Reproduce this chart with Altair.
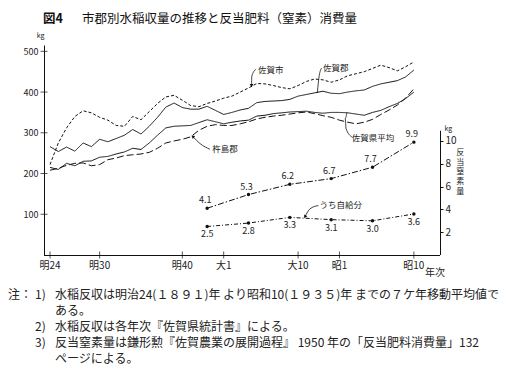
import altair as alt
import pandas as pd

FONT = "Noto Sans CJK JP"

# ---------------- data ----------------
years = list(range(1891, 1936))
saga_city = [222, 275, 312, 340, 354, 349, 338, 331, 318, 316,
             340, 332, 352, 372, 388, 392, 380, 367, 364, 372,
             378, 385, 390, 400, 410, 421, 420, 416, 411, 408,
             416, 426, 432, 430, 424, 430, 440, 445, 450, 458,
             466, 460, 452, 462, 474]
saga_gun = [266, 254, 265, 255, 275, 266, 284, 278, 286, 294,
            308, 297, 316, 338, 363, 373, 362, 358, 358, 365,
            355, 345, 350, 356, 360, 374, 377, 378, 379, 382,
            390, 394, 398, 402, 397, 396, 400, 403, 405, 414,
            420, 424, 428, 437, 454]
pref_avg = [215, 210, 225, 219, 230, 231, 240, 242, 248, 253,
            262, 259, 275, 294, 312, 316, 317, 318, 325, 332,
            327, 322, 326, 329, 331, 341, 343, 347, 349, 351,
            352, 353, 350, 348, 350, 350, 349, 346, 343, 350,
            355, 364, 372, 384, 400]
kishima = [208, 213, 220, 225, 226, 219, 222, 234, 238, 244,
           246, 248, 252, 262, 275, 280, 284, 290, 306, 316,
           320, 318, 318, 322, 327, 334, 338, 341, 343, 346,
           349, 351, 347, 342, 338, 331, 326, 322, 326, 333,
           345, 356, 368, 385, 408]
series_names = ["佐賀市", "佐賀郡", "佐賀県平均", "杵島郡"]

n_years = [1910, 1915, 1920, 1925, 1930, 1935]
nitrogen = [4.1, 5.3, 6.2, 6.7, 7.7, 9.9]
self_supplied = [2.5, 2.8, 3.3, 3.1, 3.0, 3.6]

tick_years = [1891, 1897, 1907, 1912, 1921, 1926, 1935]
tick_labels = ["明24", "明30", "明40", "大1", "大10", "昭1", "昭10"]
left_ticks = [100, 200, 300, 400, 500]
right_ticks = [2, 4, 6, 8, 10]
x_title = "年次"

x_domain = [1890.27, 1938.16]
yl_domain = [0, 515.5]
yr_domain = [0, 18.42]
right_axis_top = 10.9

# annotations (data units)
ann_left_text = ["佐賀市", "佐賀郡", "佐賀県平均", "杵島郡"]
ann_left_x = [1917.7, 1925.56, 1930.06, 1912.16]
ann_left_y = [453, 459, 288, 259.5]
leaders_left = {
    "佐賀市": ([1915.9, 1915.4, 1915.37], [456, 439, 416]),
    "佐賀郡": ([1923.85, 1923.56, 1923.32], [459, 441, 398]),
    "佐賀県平均": ([1927.5, 1926.8, 1926.7, 1926.9], [290, 310, 335, 350]),
    "杵島郡": ([1910.35, 1909.14, 1908.26], [259.5, 273.5, 291]),
}
ann_self_text = "うち自給分"
ann_self_pos = (1926.16, 4.40)
leader_self = ([1923.45, 1922.44, 1921.83], [4.34, 4.05, 3.35])
vlabel_text = "反\n当\n窒\n素\n量"
vlabel_pos = (1940.6, 9.3)

title_fig = "図4"
title_text = "市郡別水稲収量の推移と反当肥料（窒素）消費量"
note_head_main = "注："
note_head_1 = "1)"
note_heads_23 = "2)\n3)"
notes = [
    "水稲反収は明治24(１８９１)年 より昭和10(１９３５)年 までの７ケ年移動平均値で",
    "ある。",
    "水稲反収は各年次『佐賀県統計書』による。",
    "反当窒素量は鎌形勲『佐賀農業の展開過程』 1950 年の「反当肥料消費量」132",
    "ページによる。",
]

# ---------------- tables ----------------
rows = []
for name, vals in zip(series_names, [saga_city, saga_gun, pref_avg, kishima]):
    for yr, v in zip(years, vals):
        rows.append({"year": yr, "value": v, "series": name})
yield_df = pd.DataFrame(rows)

n_df = pd.DataFrame({"year": n_years, "total": nitrogen, "own": self_supplied})

lead_rows = []
for name, (xs_, ys_) in leaders_left.items():
    for i, (a, b) in enumerate(zip(xs_, ys_)):
        lead_rows.append({"g": name, "o": i, "x": a, "y": b})
lead_df = pd.DataFrame(lead_rows)
lead_self_df = pd.DataFrame({"o": list(range(len(leader_self[0]))),
                             "x": leader_self[0], "y": leader_self[1]})

xs = alt.Scale(domain=x_domain, nice=False, zero=False)
yls = alt.Scale(domain=yl_domain, nice=False, zero=False)
yrs = alt.Scale(domain=yr_domain, nice=False, zero=False)

yl_axis = alt.Axis(orient="left", values=left_ticks, ticks=False, grid=False,
                   labelPadding=6, labelFontSize=9, labelFont=FONT,
                   labelColor="#222", domainColor="#111", title="kg",
                   titleAngle=0, titleX=-4, titleY=-10, titleAlign="center",
                   titleBaseline="middle", titleFontSize=7,
                   titleFontWeight="normal", titleFont=FONT, titleColor="#222")
yr_axis = alt.Axis(orient="right", values=right_ticks, domain=False,
                   ticks=True, tickSize=3, tickColor="#111", grid=False,
                   labelPadding=2, labelFontSize=10, labelFont=FONT,
                   labelColor="#222", title="kg", titleAngle=0, titleX=4,
                   titleY=83.5, titleAlign="left", titleBaseline="middle",
                   titleFontSize=7, titleFontWeight="normal", titleFont=FONT,
                   titleColor="#222")


def X(field):
    return alt.X(field, type="quantitative", scale=xs, axis=None)


def YL(field, axis=None):
    return alt.Y(field, type="quantitative", scale=yls, axis=axis)


def YR(field, axis=None):
    return alt.Y(field, type="quantitative", scale=yrs, axis=axis)


# ---------------- left-scale layers ----------------
lines = alt.Chart(yield_df).mark_line(strokeWidth=1, color="#111").encode(
    x=X("year"),
    y=YL("value", yl_axis),
    strokeDash=alt.StrokeDash("series:N", legend=None,
                              scale=alt.Scale(domain=series_names,
                                              range=[[3, 2], [1, 0], [1, 0], [7, 3]])),
    detail="series:N",
)

# x axis drawn from the tick arrays
xaxis_df = pd.DataFrame({"x": [x_domain[0]], "x2": [x_domain[1]], "y": [0]})
x_line = alt.Chart(xaxis_df).mark_rule(color="#111", strokeWidth=1,
                                       yOffset=0.5).encode(
    x=X("x"), x2="x2:Q", y=YL("y"))
xt_df = pd.DataFrame({"x": tick_years, "lab": tick_labels,
                      "y": [0] * len(tick_years)})
x_cross = alt.Chart(xt_df).mark_tick(orient="vertical", size=7,
                                     thickness=1, color="#111").encode(
    x=X("x"), y=YL("y"))
x_labels = alt.Chart(xt_df).mark_text(font=FONT, fontSize=10, color="#222",
                                      baseline="middle", dy=11).encode(
    x=X("x"), y=YL("y"), text="lab:N")
x_title_l = alt.Chart(pd.DataFrame({"t": [x_title], "x": [x_domain[1]],
                                    "y": [0]})).mark_text(
    font=FONT, fontSize=10, color="#222", baseline="middle", dy=18,
    dx=-5).encode(x=X("x"), y=YL("y"), text="t:N")

lt_df = pd.DataFrame({"y": left_ticks, "x": [x_domain[0]] * len(left_ticks)})
left_cross = alt.Chart(lt_df).mark_tick(orient="horizontal", size=7,
                                        thickness=1, color="#111").encode(
    x=X("x"), y=YL("y"))

ann_df = pd.DataFrame({"t": ann_left_text, "x": ann_left_x, "y": ann_left_y})
ann = alt.Chart(ann_df).mark_text(font=FONT, fontSize=8.5, color="#222",
                                  align="center", baseline="middle").encode(
    x=X("x"), y=YL("y"), text="t:N")
leads = alt.Chart(lead_df).mark_line(strokeWidth=0.8, color="#111",
                                     interpolate="monotone").encode(
    x=X("x"), y=YL("y"), detail="g:N", order="o:Q")

# arrowheads at the ends of the leaders
head_city = alt.Chart(lead_df[lead_df.g == "佐賀市"].tail(1)).mark_point(
    shape="triangle-down", filled=True, size=14, color="#111",
    opacity=1).encode(x=X("x"), y=YL("y"))
head_kishima = alt.Chart(lead_df[lead_df.g == "杵島郡"].tail(1)).mark_point(
    shape="triangle-up", filled=True, size=14, color="#111", opacity=1,
    angle=310).encode(x=X("x"), y=YL("y"))

# ---------------- right-scale layers ----------------
n_line = alt.Chart(n_df).mark_line(strokeWidth=1, color="#111",
                                   strokeDash=[6, 2, 1.5, 2]).encode(
    x=X("year"), y=YR("total", yr_axis))
n_pts = alt.Chart(n_df).mark_circle(size=12, color="#111", opacity=1).encode(
    x=X("year"), y=YR("total"))
n_lbl = alt.Chart(n_df).mark_text(font=FONT, fontSize=9, color="#222",
                                  dx=-2, dy=-8).encode(
    x=X("year"), y=YR("total"), text=alt.Text("total:Q", format=".1f"))
o_line = alt.Chart(n_df).mark_line(strokeWidth=1, color="#111",
                                   strokeDash=[4, 2, 1, 2]).encode(
    x=X("year"), y=YR("own"))
o_pts = alt.Chart(n_df).mark_circle(size=12, color="#111", opacity=1).encode(
    x=X("year"), y=YR("own"))
o_lbl = alt.Chart(n_df).mark_text(font=FONT, fontSize=9, color="#222",
                                  dy=8).encode(
    x=X("year"), y=YR("own"), text=alt.Text("own:Q", format=".1f"))
r_rule_df = pd.DataFrame({"x": [x_domain[1]], "y": [0], "y2": [right_axis_top]})
r_rule = alt.Chart(r_rule_df).mark_rule(color="#111", strokeWidth=1,
                                        xOffset=0.5).encode(
    x=X("x"), y=YR("y"), y2="y2:Q")
self_ann = alt.Chart(pd.DataFrame({"t": [ann_self_text], "x": [ann_self_pos[0]],
                                   "y": [ann_self_pos[1]]})).mark_text(
    font=FONT, fontSize=8.5, color="#222", align="center",
    baseline="middle").encode(x=X("x"), y=YR("y"), text="t:N")
self_lead = alt.Chart(lead_self_df).mark_line(strokeWidth=0.8, color="#111",
                                              interpolate="monotone").encode(
    x=X("x"), y=YR("y"), order="o:Q")
head_self = alt.Chart(lead_self_df.tail(1)).mark_point(
    shape="triangle-up", filled=True, size=14, color="#111", opacity=1,
    angle=210).encode(x=X("x"), y=YR("y"))
vlabel = alt.Chart(pd.DataFrame({"t": [vlabel_text], "x": [vlabel_pos[0]],
                                 "y": [vlabel_pos[1]]})).mark_text(
    font=FONT, fontSize=8, color="#222", align="center", baseline="top",
    lineBreak="\n", lineHeight=9.7).encode(
    x=X("x"), y=YR("y"), text="t:N")

# ---------------- titles and notes (outside the plot) ----------------
title_fig_l = alt.Chart(alt.Data(values=[{"t": title_fig}])).mark_text(
    font=FONT, fontSize=12.5, fontWeight="bold", align="left",
    baseline="middle", color="#111").encode(
    x=alt.value(-1), y=alt.value(-26), text="t:N")
title_l = alt.Chart(alt.Data(values=[{"t": title_text}])).mark_text(
    font=FONT, fontSize=12.5, align="left", baseline="middle",
    color="#111").encode(x=alt.value(38), y=alt.value(-26), text="t:N")
notes_body = alt.Chart(alt.Data(values=[{"t": "\n".join(notes)}])).mark_text(
    font=FONT, fontSize=12, align="left", baseline="top", lineBreak="\n",
    lineHeight=16, color="#222").encode(
    x=alt.value(11), y=alt.value(245), text="t:N")
notes_hm = alt.Chart(alt.Data(values=[{"t": note_head_main}])).mark_text(
    font=FONT, fontSize=12, align="left", baseline="top", color="#222").encode(
    x=alt.value(-36), y=alt.value(245), text="t:N")
notes_h1 = alt.Chart(alt.Data(values=[{"t": note_head_1}])).mark_text(
    font=FONT, fontSize=12, align="left", baseline="top", color="#222").encode(
    x=alt.value(-9), y=alt.value(245), text="t:N")
notes_h23 = alt.Chart(alt.Data(values=[{"t": note_heads_23}])).mark_text(
    font=FONT, fontSize=12, align="left", baseline="top", lineBreak="\n",
    lineHeight=16, color="#222").encode(
    x=alt.value(-9), y=alt.value(277), text="t:N")

chart = alt.layer(
    lines, n_line, x_line, x_cross, x_labels, x_title_l, left_cross, leads,
    head_city, head_kishima, ann, r_rule, o_line, n_pts, o_pts, n_lbl, o_lbl,
    self_lead, head_self, self_ann, vlabel, title_fig_l, title_l, notes_body,
    notes_hm, notes_h1, notes_h23,
).resolve_scale(
    y="independent"
).properties(
    width=396, height=210,
    autosize=alt.AutoSizeParams(type="none"),
    padding={"left": 36, "top": 37, "right": 60, "bottom": 115},
    background="white",
).configure_view(stroke=None)

chart.save("out.html", embed_options={"renderer": "svg", "actions": False})
